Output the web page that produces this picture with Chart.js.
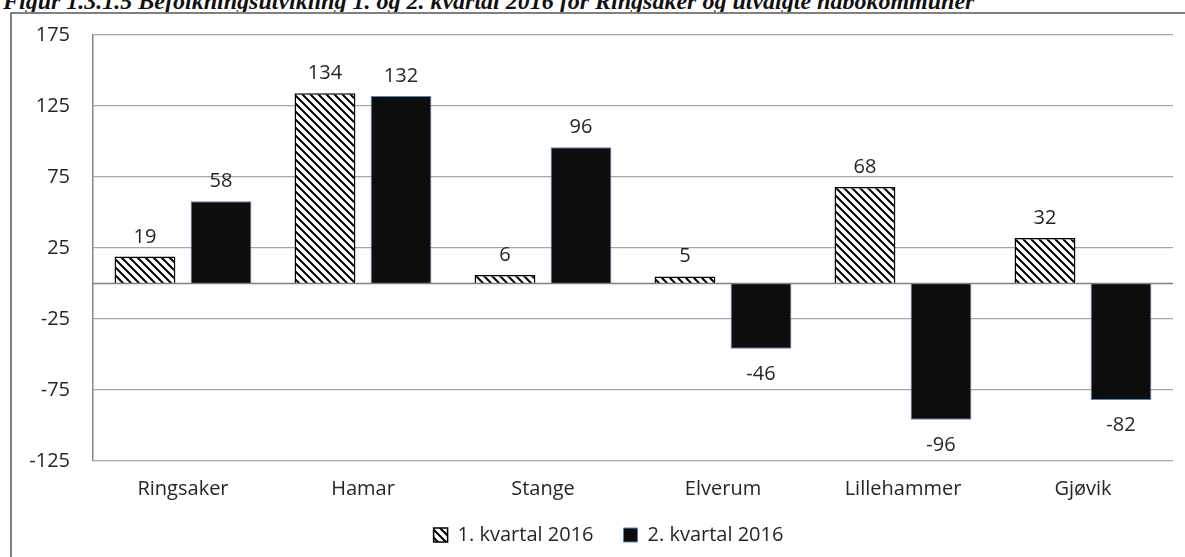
<!DOCTYPE html>
<html>
<head>
<meta charset="utf-8">
<script src="https://cdn.jsdelivr.net/npm/chart.js@4/dist/chart.umd.min.js"></script>
<style>
  body { margin: 0; background: #fff; overflow: hidden; }
  #wrap { position: relative; width: 1185px; height: 557px; overflow: hidden; }
  #title {
    position: absolute; left: 3px; top: -11px; white-space: nowrap; line-height: 24px;
    font-family: "Liberation Serif", serif; font-style: italic; font-weight: bold;
    font-size: 24px; color: #111;
  }
  #frame {
    position: absolute; left: 10px; top: 12px; right: -10px; bottom: -10px;
    border-left: 2px solid #808080; border-top: 2px solid #808080;
  }
  #chartBox { position: absolute; left: 0; top: 0; width: 1185px; height: 557px; }
</style>
</head>
<body>
<div id="wrap">
  <div id="title">Figur 1.3.1.5 Befolkningsutvikling 1. og 2. kvartal 2016 for Ringsaker og utvalgte nabokommuner</div>
  <div id="frame"></div>
  <div id="chartBox"><canvas id="befChart" width="1185" height="557"></canvas></div>
</div>
<script>
// kommuner og verdier lest av figuren
const kommuner = ['Ringsaker', 'Hamar', 'Stange', 'Elverum', 'Lillehammer', 'Gjøvik'];
const kvartal1 = [19, 134, 6, 5, 68, 32];
const kvartal2 = [58, 132, 96, -46, -96, -82];
const seriesNames = ['1. kvartal 2016', '2. kvartal 2016'];
const yMin = -125, yMax = 175, yStep = 50;

// hatch pattern for 1. kvartal
function makeHatch() {
    const c = document.createElement('canvas');
    c.width = 8; c.height = 8;
    const g = c.getContext('2d');
    g.fillStyle = '#fff';
    g.fillRect(0, 0, 8, 8);
    g.strokeStyle = '#000';
    g.lineWidth = 2;
    g.beginPath();
    g.moveTo(-2, -2); g.lineTo(10, 10);
    g.moveTo(-2, 6); g.lineTo(2, 10);
    g.moveTo(6, -2); g.lineTo(10, 2);
    g.stroke();
    return g.createPattern(c, 'repeat');
}

const FONT = '"Open Sans", sans-serif';

// zero line + value labels, and nudge the legend into place
const extrasPlugin = {
    id: 'extras',
    afterLayout(chart) {
        const lg = chart.legend;
        lg.left += 12; lg.right += 12;
        lg.top += 6; lg.bottom += 6;
    },
    afterDatasetsDraw(chart) {
        const ctx = chart.ctx;
        const y0 = chart.scales.y.getPixelForValue(0);
        ctx.save();
        ctx.strokeStyle = '#808080';
        ctx.lineWidth = 1.5;
        ctx.beginPath();
        ctx.moveTo(chart.chartArea.left, y0);
        ctx.lineTo(chart.chartArea.right, y0);
        ctx.stroke();

        ctx.font = '20px ' + FONT;
        ctx.fillStyle = '#262626';
        ctx.textAlign = 'center';
        ctx.textBaseline = 'alphabetic';
        chart.data.datasets.forEach((ds, di) => {
            const meta = chart.getDatasetMeta(di);
            meta.data.forEach((bar, i) => {
                const v = ds.data[i];
                const ty = v >= 0 ? bar.y - 14 : bar.y + 31;
                ctx.fillText(String(v), bar.x, ty);
            });
        });
        ctx.restore();
    }
};

function initChart() {
    const ctx = document.getElementById('befChart').getContext('2d');
    new Chart(ctx, {
        type: 'bar',
        data: {
            labels: kommuner,
            datasets: [{
                label: seriesNames[0],
                data: kvartal1,
                backgroundColor: makeHatch(),
                borderColor: '#000',
                borderWidth: 1.5,
                categoryPercentage: 0.845,
                barPercentage: 0.8
            }, {
                label: seriesNames[1],
                data: kvartal2,
                backgroundColor: '#0d0d0d',
                borderColor: '#5b85c0',
                borderWidth: 1,
                categoryPercentage: 0.845,
                barPercentage: 0.8
            }]
        },
        options: {
            responsive: false,
            animation: false,
            layout: { padding: { left: 20, right: 12, top: 29, bottom: 8 } },
            plugins: {
                tooltip: { enabled: false },
                legend: {
                    position: 'bottom',
                    labels: {
                        boxWidth: 14,
                        boxHeight: 14,
                        padding: 10,
                        color: '#262626',
                        font: { family: FONT, size: 20 },
                        generateLabels(chart) {
                            const items = Chart.defaults.plugins.legend.labels.generateLabels(chart);
                            items[0].text += '\u2003';
                            return items;
                        }
                    }
                }
            },
            scales: {
                x: {
                    grid: { display: false },
                    border: { display: false },
                    ticks: {
                        padding: 8,
                        color: '#262626',
                        font: { family: FONT, size: 20 }
                    }
                },
                y: {
                    min: yMin,
                    max: yMax,
                    afterFit(scale) { scale.width = 73; },
                    afterBuildTicks(scale) {
                        const t = [];
                        for (let v = yMin; v <= yMax; v += yStep) t.push({ value: v });
                        scale.ticks = t;
                    },
                    grid: { color: '#a6a6a6', lineWidth: 1.2, drawTicks: false },
                    border: { display: true, color: '#868686', width: 1.5 },
                    ticks: {
                        padding: 23,
                        color: '#262626',
                        font: { family: FONT, size: 20 }
                    }
                }
            }
        },
        plugins: [extrasPlugin]
    });
}

document.addEventListener('DOMContentLoaded', initChart);
</script>
</body>
</html>
